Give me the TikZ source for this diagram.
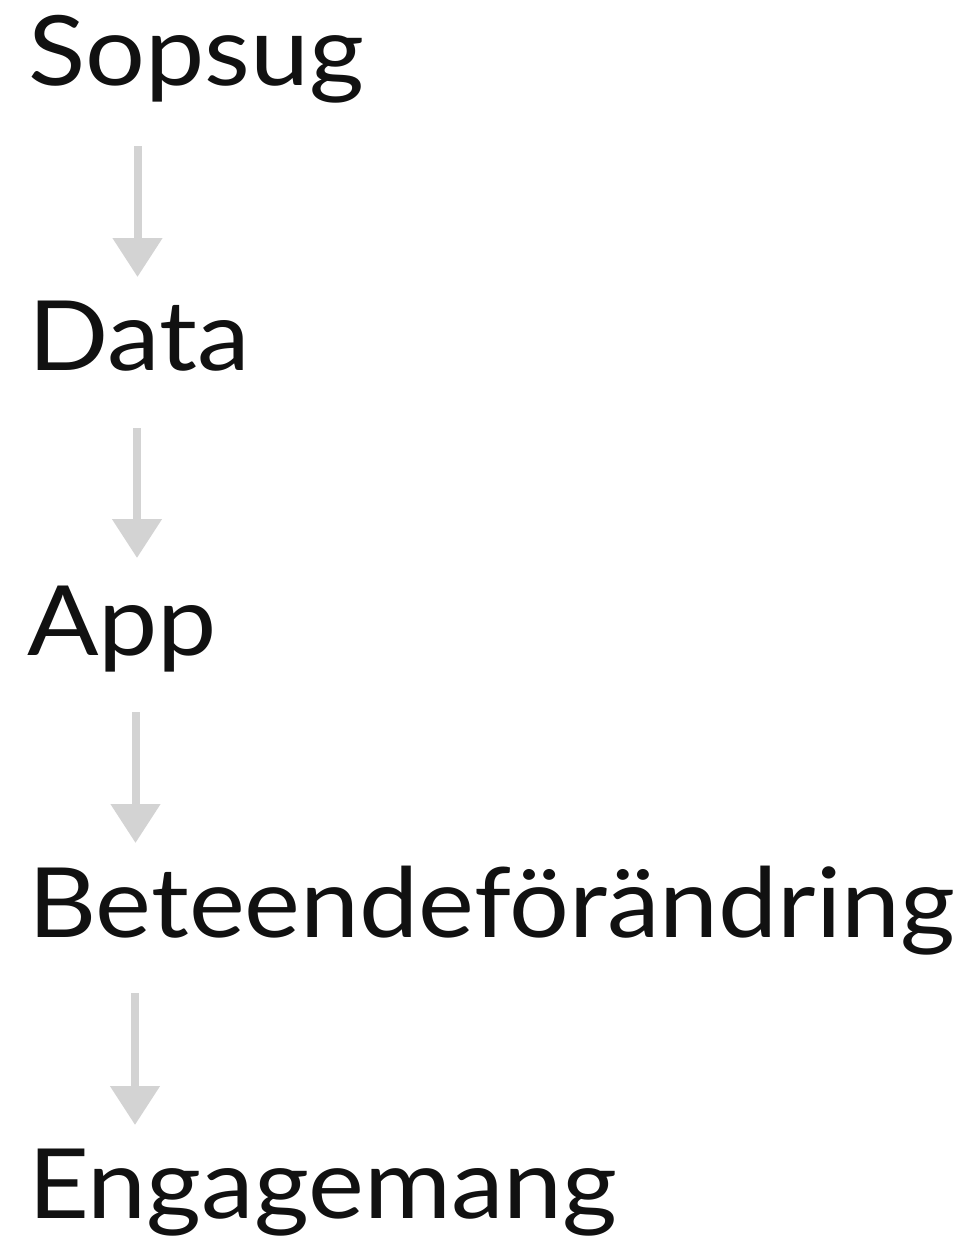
\documentclass[tikz,border=0pt]{standalone}
\usepackage{fontspec}
\setmainfont{Lato}[FakeStretch=1.09]
\usetikzlibrary{arrows.meta}
\definecolor{txt}{HTML}{111111}
\definecolor{arr}{HTML}{D3D3D3}
\tikzset{
  lbl/.style={anchor=base west, inner sep=0pt, text=txt, font=\fontsize{97}{110}\selectfont},
  conn/.style={draw=arr, line width=8pt, -{Triangle[length=39pt,width=48pt]}}
}
\begin{document}
\begin{tikzpicture}[x=1pt,y=1pt]
\useasboundingbox (0,0) rectangle (965,-1239);
\node[lbl] (s) at (28,-85) {Sopsug};
\node[lbl] (d) at (28,-370) {Data};
\node[lbl] (a) at (27,-655) {App};
\node[lbl] (b) at (28,-937) {Beteendeförändring};
\node[lbl] (e) at (28,-1218) {Engagemang};
\coordinate (a1s) at (137.5,-146); \coordinate (a1e) at (137.5,-277);
\coordinate (a2s) at (137,-428); \coordinate (a2e) at (137,-558);
\coordinate (a3s) at (135.5,-712); \coordinate (a3e) at (135.5,-843);
\coordinate (a4s) at (135,-993); \coordinate (a4e) at (135,-1125);
\draw[conn] (a1s) -- (a1e);
\draw[conn] (a2s) -- (a2e);
\draw[conn] (a3s) -- (a3e);
\draw[conn] (a4s) -- (a4e);
\end{tikzpicture}
\end{document}
